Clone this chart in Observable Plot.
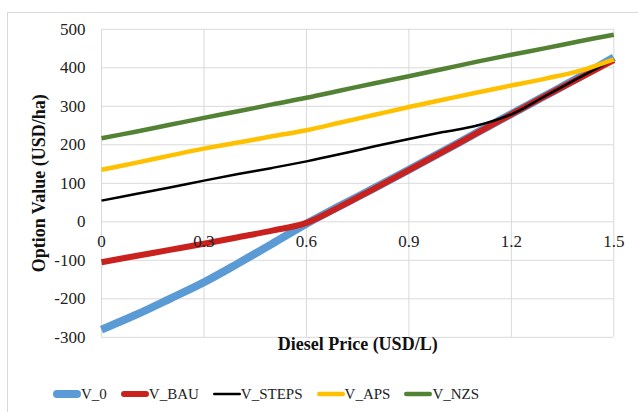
<!DOCTYPE html>
<html>
<head>
<meta charset="utf-8">
<script src="https://cdn.jsdelivr.net/npm/d3@7"></script>
<script src="https://cdn.jsdelivr.net/npm/@observablehq/plot@0.6"></script>
<style>
  html, body { margin: 0; padding: 0; background: #fff; overflow: hidden; width: 638px; height: 412px; }
  #frame { position: absolute; left: 7px; top: 12px; width: 700px; height: 500px; border: 1px solid #d9d9d9; box-sizing: border-box; }
  #chart { position: absolute; left: 0; top: 0; }
  #chart svg, #chart text { font-family: "Liberation Serif", "Times New Roman", serif; }
  #legend { position: absolute; left: 53px; top: 385px; display: flex; gap: 14px; align-items: center;
            font-family: "Liberation Serif", "Times New Roman", serif; font-size: 15px; line-height: 18px; color: #222; white-space: nowrap; }
  .item { display: flex; align-items: center; }
  .item svg { display: block; }
</style>
</head>
<body>
<div id="frame"></div>
<div id="chart"></div>
<div id="legend"></div>
<script>
const price = [0, 0.1, 0.2, 0.3, 0.4, 0.5, 0.6, 0.7, 0.8, 0.9, 1.0, 1.1, 1.2, 1.3, 1.4, 1.5];
const V_0     = [-280, -242, -200, -157, -108, -57, -5, 42, 88, 135, 183, 232, 280, 328, 376, 427];
const V_BAU   = [-105, -89, -73, -57, -40, -23, -3, 40, 87, 134, 182, 231, 279, 327, 373, 420];
const V_STEPS = [55, 72, 89, 107, 124, 140, 157, 176, 196, 215, 233, 250, 279, 327, 375, 422];
const V_APS   = [135, 153, 172, 190, 206, 222, 238, 258, 278, 298, 317, 336, 354, 372, 392, 422];
const V_NZS   = [217, 234, 252, 270, 287, 305, 322, 341, 360, 378, 397, 416, 434, 451, 469, 486];

const seriesNames = ["V_0", "V_BAU", "V_STEPS", "V_APS", "V_NZS"];
const seriesValues = [V_0, V_BAU, V_STEPS, V_APS, V_NZS];
const seriesColors = ["#5b9bd5", "#c9211e", "#000000", "#ffc000", "#548235"];
const seriesWidths = [8, 6, 2.5, 4.5, 4.5];

const xTicks = [0, 0.3, 0.6, 0.9, 1.2, 1.5];
const yTicks = [-300, -200, -100, 0, 100, 200, 300, 400, 500];
const xTitle = "Diesel Price (USD/L)";
const yTitle = "Option Value (USD/ha)";

const font = "'Liberation Serif', 'Times New Roman', serif";

const lineMarks = seriesNames.map((name, i) =>
  Plot.line(price.map((p, j) => ({x: p, y: seriesValues[i][j]})), {
    x: "x", y: "y", stroke: seriesColors[i], strokeWidth: seriesWidths[i],
    curve: "catmull-rom", strokeLinejoin: "round", strokeLinecap: "butt"
  })
);

const chart = Plot.plot({
  width: 638,
  height: 377,
  marginLeft: 101,
  marginRight: 24.7,
  marginTop: 28.8,
  marginBottom: 40.2,
  style: {fontFamily: font, fontSize: "17px", color: "#222", background: "transparent"},
  x: {domain: [0, 1.5], axis: null},
  y: {domain: [-300, 500], axis: null},
  marks: [
    Plot.gridY(yTicks, {stroke: "#d9d9d9", strokeOpacity: 1, strokeWidth: 1}),
    Plot.gridX(xTicks, {stroke: "#d9d9d9", strokeOpacity: 1, strokeWidth: 1}),
    Plot.axisY(yTicks, {tickSize: 0, tickPadding: 16, tickFormat: d => String(d), label: null, fontSize: 17}),
    ...lineMarks,
    Plot.text(xTicks, {x: d => d, y: () => 0, text: d => String(d), dy: 20, fontSize: 17, fill: "#222"}),
    Plot.text([xTitle], {frameAnchor: "bottom", dy: 13, textAnchor: "middle", fontWeight: "bold", fontSize: 18, fill: "#111"}),
    Plot.text([yTitle], {frameAnchor: "left", dx: -62.5, textAnchor: "middle", rotate: -90, fontWeight: "bold", fontSize: 18, fill: "#111"})
  ]
});
document.getElementById("chart").appendChild(chart);

const legend = document.getElementById("legend");
seriesNames.forEach((name, i) => {
  const item = document.createElement("div");
  item.className = "item";
  const w = 28, h = 10;
  item.innerHTML = `<svg width="${w}" height="${h}"><line x1="${seriesWidths[i]/2}" x2="${w - seriesWidths[i]/2}" y1="${h/2}" y2="${h/2}" stroke="${seriesColors[i]}" stroke-width="${seriesWidths[i]}" stroke-linecap="round"/></svg><span>${name}</span>`;
  legend.appendChild(item);
});
</script>
</body>
</html>
